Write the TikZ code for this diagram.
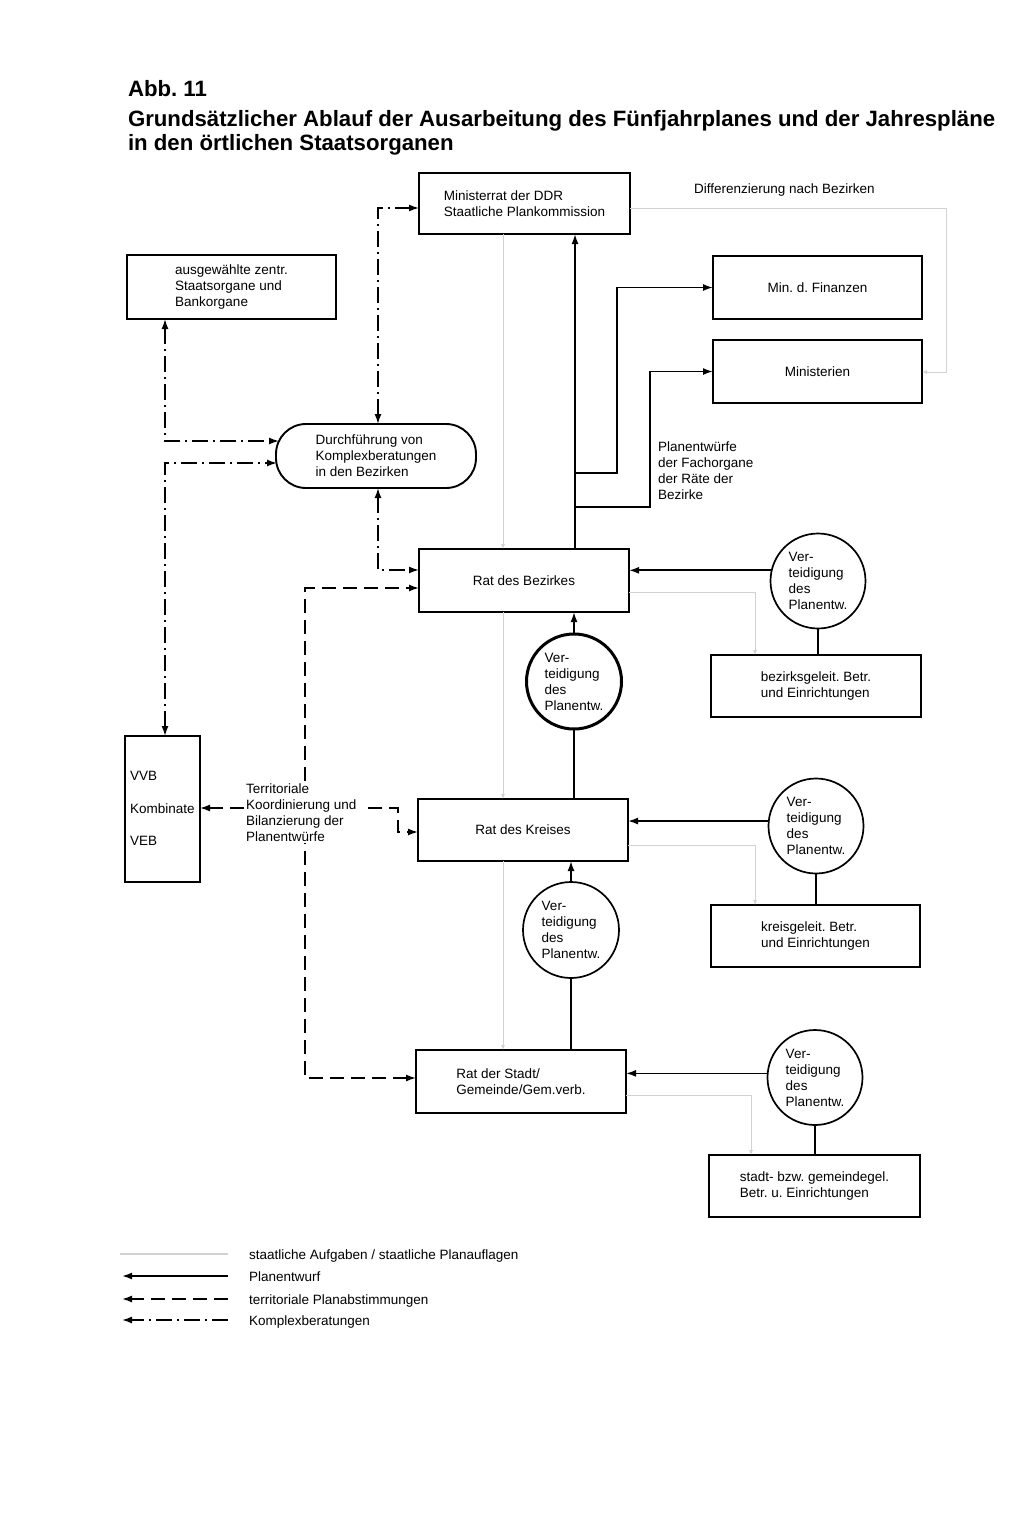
\documentclass[tikz,border=0pt]{standalone}
\usepackage{fontspec}
\setmainfont{Liberation Sans}
\usetikzlibrary{arrows.meta,calc}
\frenchspacing
\begin{document}
\begin{tikzpicture}[x=1pt,y=-1pt,
  every node/.style={font=\fontsize{13.5}{16}\selectfont, inner sep=0pt, outer sep=0pt},
  box/.style={draw, line width=1.9pt, align=left},
  circ/.style={draw, circle, line width=1.7pt, minimum size=95pt, align=left},
  txt/.style={align=left, anchor=north west},
  ttl/.style={font=\fontsize{22.2}{24}\bfseries, anchor=base west},
  ln/.style={line width=1.7pt},
  kb/.style={line width=1.5pt, dash pattern=on 16pt off 5pt on 2pt off 5pt},
  tp/.style={line width=1.5pt, dash pattern=on 14pt off 7pt},
  sa/.style={line width=0.9pt, gray!35},
  tip/.style={-{Latex[length=10pt,width=7pt]}},
  tips/.style={{Latex[length=10pt,width=7pt]}-{Latex[length=10pt,width=7pt]}},
  stip/.style={-{Latex[length=5pt,width=4pt]}},
]
\fill[white] (0,0) rectangle (1024,1518);
\useasboundingbox (0,0) rectangle (1024,1518);

% title
\node[ttl] (t1) at (128,96) {Abb. 11};
\node[ttl] (t2) at (128,126) {Grundsätzlicher Ablauf der Ausarbeitung des Fünfjahrplanes und der Jahrespläne};
\node[ttl] (t3) at (128,150) {in den örtlichen Staatsorganen};

% boxes
\node[box, minimum width=211, minimum height=61] (mr) at (524.5,203.5) {Ministerrat der DDR\\Staatliche Plankommission};
\node[box, minimum width=209, minimum height=64] (aus) at (231.5,287) {ausgewählte zentr.\\Staatsorgane und\\Bankorgane};
\node[box, minimum width=209, minimum height=63] (mf) at (817.5,287.5) {Min. d. Finanzen};
\node[box, minimum width=209, minimum height=63] (mi) at (817.5,371.5) {Ministerien};
\node[box, rounded corners=30pt, minimum width=200, minimum height=64] (dur) at (376,456) {Durchführung von\\Komplexberatungen\\in den Bezirken};
\node[box, minimum width=210, minimum height=63] (rb) at (524,580.5) {Rat des Bezirkes};
\node[circ] (cb) at (818,581) {Ver-\\teidigung\\des\\Planentw.};
\node[box, minimum width=210, minimum height=62] (bg) at (816,686) {bezirksgeleit. Betr.\\und Einrichtungen};
\node[circ, line width=3pt] (cm1) at (574,681.5) {Ver-\\teidigung\\des\\Planentw.};
\node[box, minimum width=75, minimum height=146] (vvb) at (162.5,809) {};
\node[anchor=base west] (vv1) at (130,780) {VVB};
\node[anchor=base west] (vv2) at (130,813) {Kombinate};
\node[anchor=base west] (vv3) at (130,845) {VEB};
\node[box, minimum width=210, minimum height=62] (rk) at (523,830) {Rat des Kreises};
\node[circ] (ck) at (816,826) {Ver-\\teidigung\\des\\Planentw.};
\node[box, minimum width=209, minimum height=62] (kg) at (815.5,936) {kreisgeleit. Betr.\\und Einrichtungen};
\node[circ, minimum size=96pt] (cm2) at (571,930) {Ver-\\teidigung\\des\\Planentw.};
\node[box, minimum width=210, minimum height=63] (rs) at (521,1081.5) {Rat der Stadt/\\Gemeinde/Gem.verb.};
\node[circ] (cs) at (815,1077.5) {Ver-\\teidigung\\des\\Planentw.};
\node[box, minimum width=211, minimum height=62] (sg) at (814.5,1186) {stadt- bzw. gemeindegel.\\Betr. u. Einrichtungen};

% labels
\node[anchor=base west] (diff) at (694,193) {Differenzierung nach Bezirken};
\node[txt] (pe) at (658,441.5) {Planentwürfe\\der Fachorgane\\der Räte der\\Bezirke};

% staatliche Aufgaben (grey)
\draw[sa, stip] (mr.east |- 0,208) -- (946,208) |- (mi.east |- 0,372);
\draw[sa, stip] (mr.south -| 503,0) -- (rb.north -| 503,0);
\draw[sa, stip] (rb.south -| 503,0) -- (rk.north -| 503,0);
\draw[sa, stip] (rk.south -| 503,0) -- (rs.north -| 503,0);
\draw[sa, stip] (rb.east |- 0,592) -| (bg.north -| 755,0);
\draw[sa, stip] (rk.east |- 0,845) -| (kg.north -| 755,0);
\draw[sa, stip] (rs.east |- 0,1095) -| (sg.north -| 751,0);

% Planentwurf (solid)
\coordinate (j1) at (575,473);
\coordinate (j2) at (575,507);
\draw[ln, tip] (rb.north -| 575,0) -- (mr.south -| 575,0);
\draw[ln, tip] (j1) -- (617,473) |- (mf.west);
\draw[ln, tip] (j2) -- (650,507) |- (mi.west);
\draw[ln, tip] (cb.167) -- (rb.east |- cb.167);
\draw[ln] (cb.south) -- (bg.north -| cb.south);
\draw[ln, tip] (cm1.north) -- (rb.south -| cm1.north);
\draw[ln] (cm1.south) -- (rk.north -| cm1.south);
\draw[ln, tip] (ck.174) -- (rk.east |- ck.174);
\draw[ln] (ck.south) -- (kg.north -| ck.south);
\draw[ln, tip] (cm2.north) -- (rk.south -| cm2.north);
\draw[ln] (cm2.south) -- (rs.north -| cm2.south);
\draw[ln, tip] (cs.175) -- (rs.east |- cs.175);
\draw[ln] (cs.south) -- (sg.north -| cs.south);

% Komplexberatungen (dash-dot)
\draw[kb, tips] (dur.north -| 378,0) -- (378,208) -- (mr.west |- 0,208);
\draw[kb, tips] (dur.south -| 378,0) |- (rb.west |- 0,570);
\draw[kb, tips] (aus.south -| 165,0) |- ($(dur.west)+(3,-15)$);
\draw[kb, tips] (vvb.north -| 165,0) |- ($(dur.west)+(1,7)$);

% territoriale Planabstimmungen (dashed)
\draw[tp, tips] (rs.west |- 0,1078) -| (305,588) -- (rb.west |- 0,588);
\node[txt, fill=white, inner sep=2pt] (terr) at (244,781.5) {Territoriale\\Koordinierung und\\Bilanzierung der\\Planentwürfe};
\draw[tp, tip] (terr.west |- 0,808) -- (vvb.east |- 0,808);
\draw[tp, tip] (368,808) -- (398,808) |- (rk.west |- 0,832);

% legend
\coordinate (la1) at (228,1254); \coordinate (lb1) at (120,1254);
\coordinate (la2) at (228,1276); \coordinate (lb2) at (122,1276);
\coordinate (la3) at (228,1299); \coordinate (lb3) at (122,1299);
\coordinate (la4) at (228,1320); \coordinate (lb4) at (122,1320);
\draw[sa, line width=1.2pt] (la1) -- (lb1);
\draw[ln, tip] (la2) -- (lb2);
\draw[tp, tip] (la3) -- (lb3);
\draw[kb, tip] (la4) -- (lb4);
\node[anchor=base west] (lt1) at (249,1259) {staatliche Aufgaben / staatliche Planauflagen};
\node[anchor=base west] (lt2) at (249,1281) {Planentwurf};
\node[anchor=base west] (lt3) at (249,1304) {territoriale Planabstimmungen};
\node[anchor=base west] (lt4) at (249,1325) {Komplexberatungen};
\end{tikzpicture}
\end{document}
